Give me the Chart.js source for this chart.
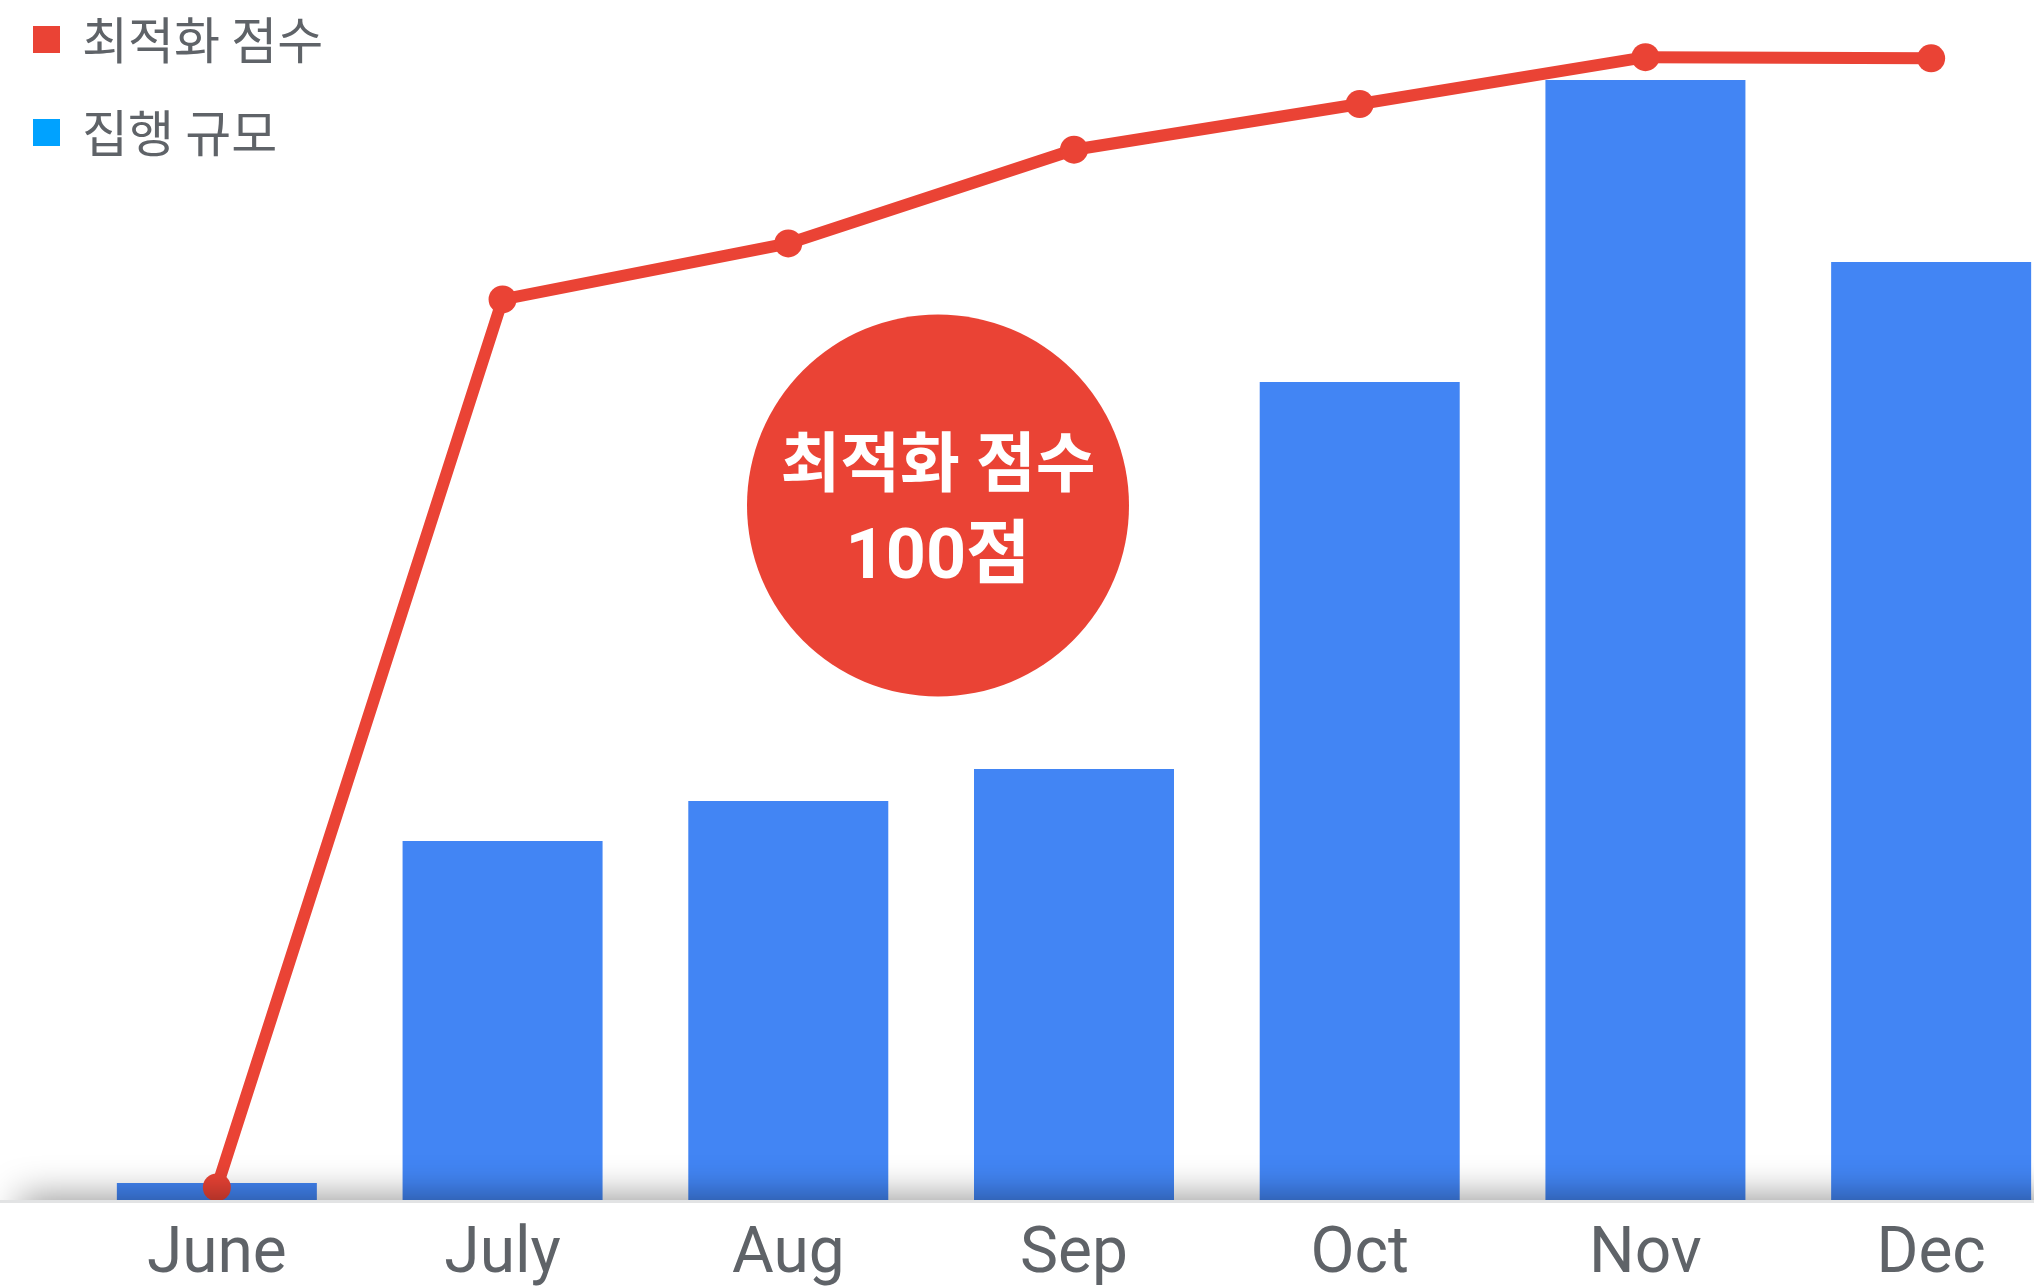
<!DOCTYPE html>
<html lang="ko">
<head>
<meta charset="utf-8">
<title>최적화 점수 · 집행 규모</title>
<script src="https://cdn.jsdelivr.net/npm/chart.js@4.4.1/dist/chart.umd.min.js"></script>
<style>
  html, body { margin: 0; padding: 0; background: #ffffff; overflow: hidden; }
  #wrap { position: relative; width: 2080px; height: 1286px; }
</style>
</head>
<body>
<div id="wrap"><canvas id="chart"></canvas></div>
<script>
// Monthly categories (x-axis tick labels)
const months = ['June', 'July', 'Aug', 'Sep', 'Oct', 'Nov', 'Dec'];
// 집행 규모 (bars)
const spend = [1.7, 35.9, 39.9, 43.1, 81.8, 112.0, 93.8];
// 최적화 점수 (line)
const scores = [1.1, 78.8, 83.7, 91.9, 95.9, 100, 99.9];
// Series names
const scoreLabel = '최적화 점수';
const spendLabel = '집행 규모';

const RED = '#EA4335';
const BAR_BLUE = '#4285F4';
const LEGEND_BLUE = '#00A2FF';
const TEXT_GRAY = '#5f6368';

// Soft floor shadow along the baseline plus the light axis rule
const floorShadow = {
  id: 'floorShadow',
  afterDatasetsDraw(chart) {
    const { ctx, chartArea, width } = chart;
    const base = chartArea.bottom;
    ctx.save();
    ctx.beginPath();
    ctx.rect(0, 0, width, base);
    ctx.clip();
    ctx.filter = 'blur(18px)';
    ctx.fillStyle = 'rgba(0,0,0,0.4)';
    ctx.fillRect(20, base - 4, width + 100, 80);
    ctx.restore();

    ctx.save();
    ctx.fillStyle = '#e2e3e4';
    ctx.fillRect(0, base, width, 3);
    ctx.restore();
  }
};

// Round badge showing the top score
const scoreBadge = {
  id: 'scoreBadge',
  afterDatasetsDraw(chart) {
    const { ctx, chartArea } = chart;
    const cx = chartArea.left + 864;
    const cy = chartArea.top + 505.5;
    const r = 191;
    ctx.save();
    ctx.beginPath();
    ctx.arc(cx, cy, r, 0, Math.PI * 2);
    ctx.fillStyle = RED;
    ctx.fill();
    ctx.fillStyle = '#ffffff';
    ctx.textAlign = 'center';
    ctx.textBaseline = 'alphabetic';
    ctx.font = "bold 65px Roboto, 'Noto Sans CJK KR'";
    ctx.fillText(scoreLabel, cx, cy - 20);
    ctx.font = "bold 70px Roboto, 'Noto Sans CJK KR'";
    ctx.fillText(Math.max(...scores) + '점', cx, cy + 72.5);
    ctx.restore();
  }
};

// Stacked legend in the top-left corner
const cornerLegend = {
  id: 'cornerLegend',
  afterDraw(chart) {
    const { ctx } = chart;
    const items = [
      { text: scoreLabel, color: RED },
      { text: spendLabel, color: LEGEND_BLUE }
    ];
    ctx.save();
    ctx.font = "400 50px 'Noto Sans CJK KR', 'Noto Sans', sans-serif";
    ctx.textAlign = 'left';
    ctx.textBaseline = 'middle';
    items.forEach((it, i) => {
      const y = 26 + i * 93;
      ctx.fillStyle = it.color;
      ctx.fillRect(33, y, 27, 27);
      ctx.fillStyle = TEXT_GRAY;
      ctx.fillText(it.text, 82, y + 13.5);
    });
    ctx.restore();
  }
};

new Chart(document.getElementById('chart'), {
  data: {
    labels: months,
    datasets: [
      {
        type: 'line',
        label: scoreLabel,
        data: scores,
        yAxisID: 'yScore',
        borderColor: RED,
        backgroundColor: RED,
        borderWidth: 12,
        pointRadius: 14,
        pointHoverRadius: 14,
        pointBackgroundColor: RED,
        pointBorderWidth: 0,
        tension: 0,
        clip: false,
        order: 0
      },
      {
        type: 'bar',
        label: spendLabel,
        data: spend,
        yAxisID: 'ySpend',
        backgroundColor: BAR_BLUE,
        borderWidth: 0,
        barPercentage: 0.7,
        categoryPercentage: 1.0,
        order: 1
      }
    ]
  },
  options: {
    responsive: true,
    maintainAspectRatio: false,
    animation: false,
    layout: { autoPadding: false, padding: { left: 74, right: 6, top: 0, bottom: 0 } },
    plugins: {
      legend: { display: false },
      tooltip: { enabled: false },
      title: { display: false }
    },
    scales: {
      x: {
        offset: true,
        grid: { display: false, drawTicks: false },
        border: { display: false },
        ticks: {
          color: TEXT_GRAY,
          padding: 18,
          font: { family: 'Roboto', size: 64, weight: '400' },
          maxRotation: 0,
          autoSkip: false
        },
        afterFit(scale) { scale.height = 86; }
      },
      ySpend: {
        display: false,
        min: 0,
        max: 120
      },
      yScore: {
        display: false,
        min: 0,
        max: 105
      }
    }
  },
  plugins: [floorShadow, scoreBadge, cornerLegend]
});
</script>
</body>
</html>
